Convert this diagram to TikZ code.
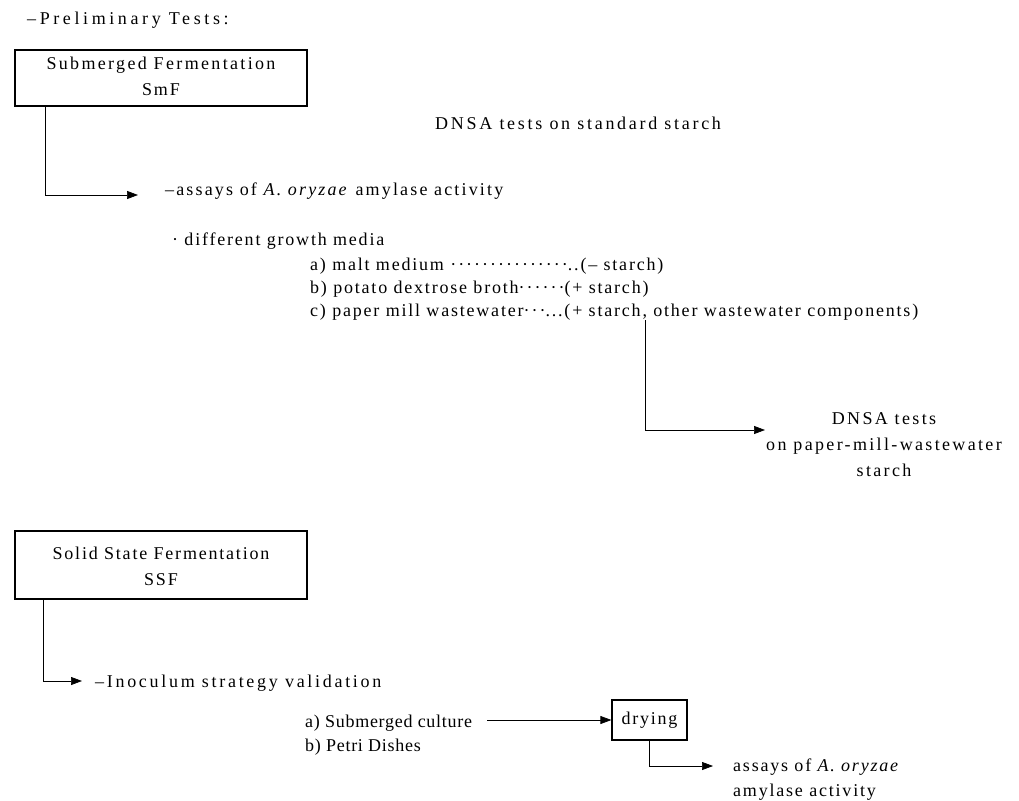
\documentclass[tikz,border=0pt]{standalone}
\usepackage{fontspec}
\setmainfont{Liberation Serif}[LetterSpace=10]
\usetikzlibrary{arrows.meta}
\newcommand{\ls}[1]{\addfontfeature{LetterSpace=#1}}
\newcommand{\dts}[1]{{\addfontfeature{LetterSpace=11}#1}}
\begin{document}
\begin{tikzpicture}[x=1pt,y=-1pt,
  every node/.style={font=\fontsize{18}{25}\selectfont, inner sep=0pt},
  txt/.style={anchor=base west},
  box/.style={draw, line width=1.2pt, inner sep=0pt},
  conn/.style={line width=0.7pt, -{Triangle[length=11pt,width=8pt]}}]
\useasboundingbox (0,0) rectangle (1019,800);

\node[txt] (pre) at (27,25) {\ls{20}–Preliminary Tests:};

% SmF box
\node[box, minimum width=292pt, minimum height=56pt] (smf) at (161,78) {};
\node (smf1) at (161,65) {\ls{13}Submerged Fermentation};
\node (smf2) at (161,90) {SmF};

\node[txt] (dnsa1) at (435,129) {\ls{15}DNSA tests on standard starch};

\coordinate (s1) at (45,106);
\coordinate (a1) at (138,195);
\draw[conn] (s1) -- (s1 |- a1) -- (a1);
\node[txt] (assay1) at (165,195) {\ls{12}–assays of \textit{A. oryzae} amylase activity};

\node[txt] (media) at (172,245) {\textperiodcentered\ different growth media};
\node[txt] (ma) at (310,270) {a) malt medium \dts{···············}..(– starch)};
\node[txt] (mb) at (310,293) {b) potato dextrose broth\dts{······}(+ starch)};
\node[txt] (mc) at (310,316) {c) paper mill wastewater\dts{···}...(+ starch, other wastewater components)};

\coordinate (c1) at (645,320);
\coordinate (a2) at (765,430);
\draw[conn] (c1) -- (c1 |- a2) -- (a2);
\node[align=center, anchor=north, font=\fontsize{18}{26}\selectfont\ls{13}] (dnsa2) at (884,412) {DNSA tests\\on paper-mill-wastewater\\starch};

% SSF box
\node[box, minimum width=292pt, minimum height=68pt] (ssf) at (161,565) {};
\node (ssf1) at (161,553) {Solid State Fermentation};
\node (ssf2) at (161,580) {SSF};

\coordinate (s2) at (43,599);
\coordinate (a3) at (82,681);
\draw[conn] (s2) -- (s2 |- a3) -- (a3);
\node[txt] (inoc) at (95,687) {\ls{15}–Inoculum strategy validation};

\node[txt] (sa) at (305,727) {\ls{4}a) Submerged culture};
\node[txt] (sb) at (305,751) {\ls{4}b) Petri Dishes};

\node[box, minimum width=75pt, minimum height=40pt] (dry) at (649.5,720) {};
\node (dryt) at (649.5,720) {drying};
\coordinate (d0) at (487,720);
\draw[conn] (d0) -- (dry.west);

\coordinate (d1) at (649,740);
\coordinate (a4) at (713,766);
\draw[conn] (d1) -- (d1 |- a4) -- (a4);
\node[txt] (assay2) at (733,771) {assays of \textit{A. oryzae}};
\node[txt] (assay3) at (733,796) {amylase activity};
\end{tikzpicture}
\end{document}
